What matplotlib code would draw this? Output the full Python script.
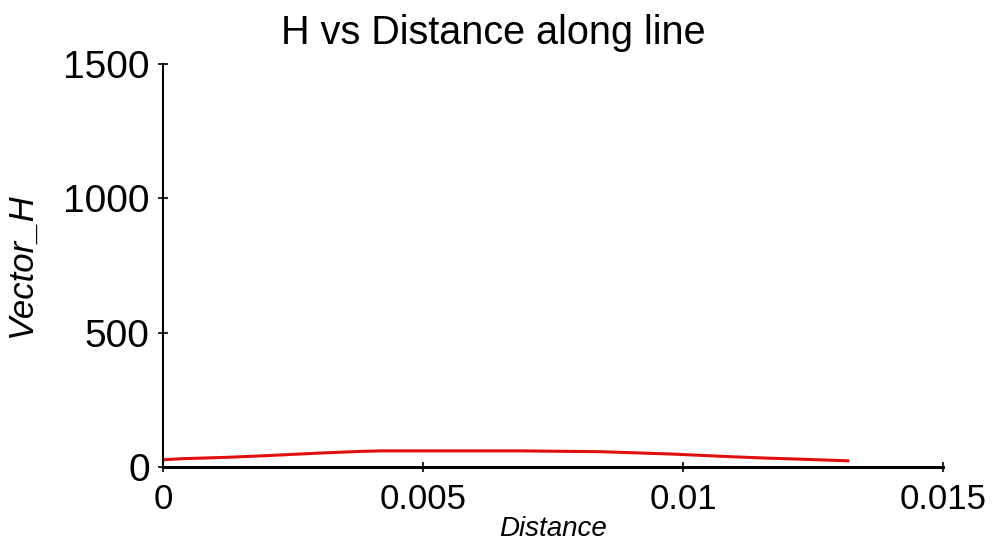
import numpy as np
import matplotlib.pyplot as plt

plt.rcParams['font.family'] = ['Liberation Sans', 'DejaVu Sans']

# distance along line and field values
distance = [0.0, 0.00038, 0.00123, 0.00196, 0.00260, 0.00315, 0.00379, 0.00417,
            0.00687, 0.00840, 0.00904, 0.00981, 0.01038, 0.01096, 0.01162,
            0.01244, 0.01317]
vector_h = [27, 31, 36, 42, 48, 53, 58, 60,
            60, 57, 53, 48, 43, 38, 33,
            28, 23]

xticks = [0, 0.005, 0.01, 0.015]
xticklabels = ['0', '0.005', '0.01', '0.015']
yticks = [0, 500, 1000, 1500]

fig = plt.figure(figsize=(9.98, 5.54), dpi=100)
ax = fig.add_axes([163/998, 87/554, 780/998, 403/554])

ax.plot(distance, vector_h, color='#e01010', linewidth=2.2)

ax.set_xlim(0, 0.015)
ax.set_ylim(0, 1500)
ax.set_xticks(xticks)
ax.set_xticklabels(xticklabels)
ax.set_yticks(yticks)

ax.spines['top'].set_visible(False)
ax.spines['right'].set_visible(False)
ax.spines['left'].set_linewidth(1.5)
ax.spines['bottom'].set_linewidth(2.2)
ax.tick_params(axis='both', direction='inout', length=7, width=1.2)
ax.tick_params(axis='y', labelsize=28, pad=6)
ax.tick_params(axis='x', labelsize=25, pad=8)

fig.text(0.494, 0.975, 'H vs Distance along line', fontsize=28.5,
         ha='center', va='top')
ax.set_xlabel('Distance', fontsize=20, style='italic', labelpad=0)
ax.set_ylabel('Vector_H', fontsize=25, style='italic', labelpad=18)

fig.savefig('out.png', dpi=100)
